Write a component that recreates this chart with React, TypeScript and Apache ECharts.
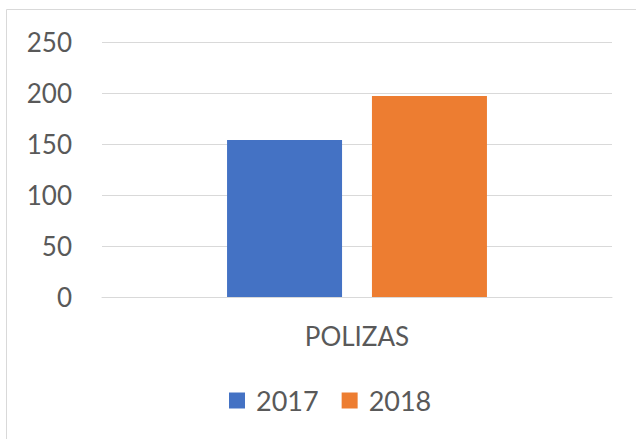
import React, { useEffect, useRef } from "react";
import * as echarts from "echarts";

const categories = ["POLIZAS"];
const seriesNames = ["2017", "2018"];
const values2017 = [154];
const values2018 = [197];
const colors = ["#4472C4", "#ED7D31"];

export default function App() {
  const ref = useRef<HTMLDivElement>(null);
  useEffect(() => {
    const chart = echarts.init(ref.current!, null, { renderer: "svg" });
    const font = "Lato";
    chart.setOption({
      animation: false,
      backgroundColor: "#ffffff",
      graphic: [
        {
          type: "rect",
          shape: { x: 6.5, y: 9.5, width: 800, height: 600 },
          style: { fill: "none", stroke: "#d9d9d9", lineWidth: 1 },
          silent: true,
        },
      ],
      grid: { left: 102, right: 24, top: 42, bottom: 142 },
      legend: {
        data: seriesNames,
        bottom: 20,
        left: 224,
        itemWidth: 16,
        itemHeight: 16,
        itemGap: 23,
        icon: "rect",
        textStyle: {
          color: "#595959",
          fontSize: 27,
          fontFamily: font,
          padding: [0, 0, 0, 6],
        },
      },
      xAxis: {
        type: "category",
        data: categories,
        axisLine: { show: true, lineStyle: { color: "#d9d9d9", width: 1 } },
        axisTick: { show: false },
        axisLabel: { color: "#595959", fontSize: 26, fontFamily: font, margin: 26 },
      },
      yAxis: {
        type: "value",
        min: 0,
        max: 250,
        interval: 50,
        axisLine: { show: false },
        axisTick: { show: false },
        splitLine: { lineStyle: { color: "#d9d9d9", width: 1 } },
        axisLabel: { color: "#595959", fontSize: 26, fontFamily: font, margin: 30 },
      },
      series: [
        {
          name: seriesNames[0],
          type: "bar",
          data: values2017,
          barWidth: 115,
          barGap: "26%",
          itemStyle: { color: colors[0] },
        },
        {
          name: seriesNames[1],
          type: "bar",
          data: values2018,
          barWidth: 115,
          barGap: "26%",
          itemStyle: { color: colors[1] },
        },
      ],
    });
    return () => chart.dispose();
  }, []);
  return (
    <div
      ref={ref}
      style={{ position: "fixed", left: 0, top: 0, width: 636, height: 439 }}
    />
  );
}
